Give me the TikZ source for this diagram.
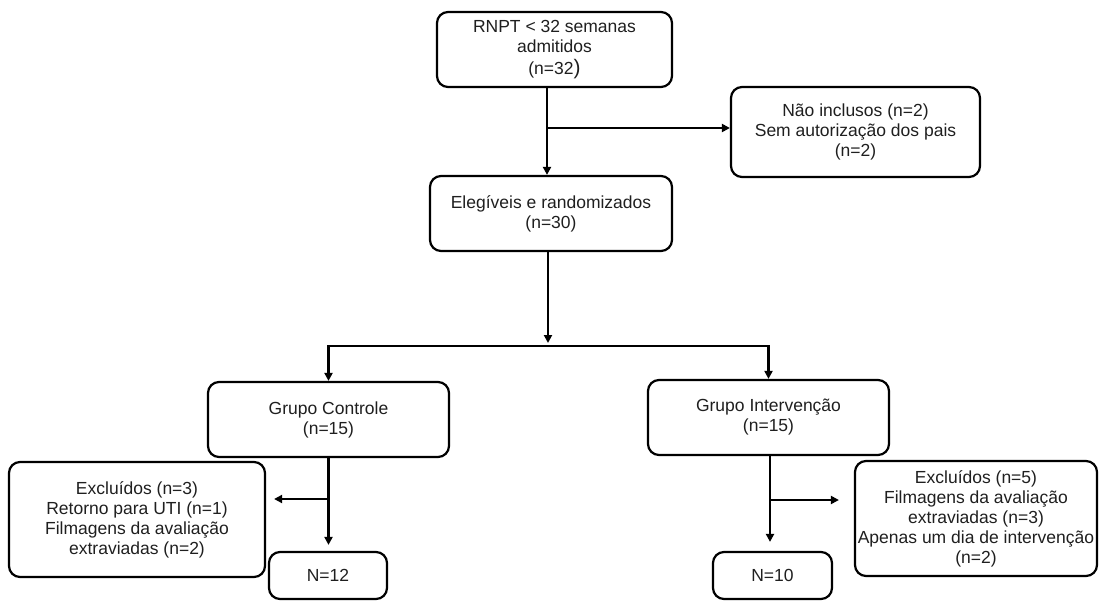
\documentclass[tikz,border=0pt]{standalone}
\usepackage{fontspec}
\setmainfont{Liberation Sans}
\usetikzlibrary{arrows.meta}
\begin{document}
\begin{tikzpicture}[x=1pt,y=-1pt,
  box/.style={draw=black, line width=2.2pt, rounded corners=11pt, align=center, inner sep=0pt,
    font=\fontsize{17.5}{20}\selectfont, text=black!88},
  ln/.style={line width=2.2pt},
  tip/.tip={Triangle[length=8pt,width=8pt]},
  arr/.style={line width=2.2pt, -tip}]
\useasboundingbox (0,0) rectangle (1099,601);
\node[box, minimum width=235pt, minimum height=75pt] (b1) at (554.5,49.5)
  {RNPT < 32 semanas\\admitidos\\[2pt](n=32{\fontsize{21}{20}\selectfont )}};
\node[box, minimum width=242pt, minimum height=75pt] (b2) at (551,213.5)
  {Elegíveis e randomizados\\(n=30)};
\node[box, minimum width=249pt, minimum height=90pt] (ni) at (855.5,132)
  {Não inclusos (n=2)\\Sem autorização dos pais\\(n=2)};
\node[box, minimum width=241pt, minimum height=75pt] (gc) at (328.5,419.5)
  {Grupo Controle\\(n=15)};
\node[box, minimum width=241pt, minimum height=75pt] (gi) at (768.5,417.5)
  {Grupo Intervenção\\(n=15)};
\node[box, minimum width=256pt, minimum height=115pt] (e1) at (137,519.5)
  {Excluídos (n=3)\\Retorno para UTI (n=1)\\Filmagens da avaliação\\extraviadas (n=2)};
\node[box, minimum width=118pt, minimum height=47pt] (n12) at (328,575.5) {N=12};
\node[box, minimum width=242pt, minimum height=115pt] (e2) at (976,518.5)
  {Excluídos (n=5)\\Filmagens da avaliação\\extraviadas (n=3)\\Apenas um dia de intervenção\\(n=2)};
\node[box, minimum width=119pt, minimum height=47pt] (n10) at (772.5,575.5) {N=10};

\coordinate (j1) at (547,128);
\draw[arr] (b1.south -| j1) -- (b2.north -| j1);
\draw[arr] (j1) -- (ni.west |- j1);

\coordinate (j2) at (548,346);
\draw[arr, shorten >=3pt] (b2.south -| j2) -- (j2);
\draw[ln, tip-tip] (gc.north) -- (gc.north |- j2) -- (gi.north |- j2) -- (gi.north);

\coordinate (j3) at (328.5,499);
\draw[arr, shorten >=6pt] (gc.south) -- (gc.south |- n12.north);
\draw[arr, shorten >=8pt] (gc.south |- j3) -- (e1.east |- j3);

\coordinate (j4) at (770,500);
\draw[arr, shorten >=9pt] (gi.south -| j4) -- (n10.north -| j4);
\draw[arr, shorten >=15pt] (j4) -- (e2.west |- j4);
\end{tikzpicture}
\end{document}
